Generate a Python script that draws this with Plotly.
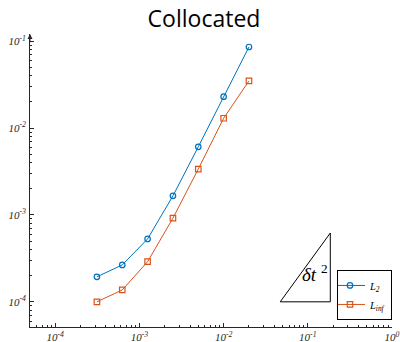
import numpy as np
import plotly.graph_objects as go

# Data
dt = [0.0003125, 0.000625, 0.00125, 0.0025, 0.005, 0.01, 0.02]
err_L2 = [1.94e-4, 2.66e-4, 5.3e-4, 1.66e-3, 6.1e-3, 2.3e-2, 8.6e-2]
err_Linf = [1.0e-4, 1.37e-4, 2.9e-4, 9.2e-4, 3.38e-3, 1.3e-2, 3.5e-2]
tri_x = [0.047, 0.185, 0.185, 0.047]
tri_y = [1.0e-4, 1.0e-4, 6.2e-4, 1.0e-4]
x_decades = [-4, -3, -2, -1, 0]
y_decades = [-4, -3, -2, -1]

BLUE = "#0072BD"
ORANGE = "#D95319"
AX = "#262626"
SERIF = "Liberation Serif"

fig = go.Figure()
fig.add_trace(go.Scatter(
    x=dt, y=err_L2, mode="lines+markers", name="<i>L<sub>2</sub></i>",
    line=dict(color=BLUE, width=1),
    marker=dict(symbol="circle-open", size=5.5, color=BLUE, line=dict(width=1.2)),
))
fig.add_trace(go.Scatter(
    x=dt, y=err_Linf, mode="lines+markers", name="<i>L<sub>inf</sub></i>",
    line=dict(color=ORANGE, width=1),
    marker=dict(symbol="square-open", size=5.5, color=ORANGE, line=dict(width=1.2)),
))
fig.add_trace(go.Scatter(
    x=tri_x, y=tri_y, mode="lines", showlegend=False, hoverinfo="skip",
    line=dict(color="black", width=1),
))

def minor_vals(decs):
    out = []
    for d in range(min(decs) - 1, max(decs) + 1):
        for k in range(2, 10):
            out.append(k * 10.0 ** d)
    return out

fig.update_xaxes(
    type="log", range=[-4.3, 0.0], automargin=False,
    showline=True, linecolor=AX, linewidth=1, mirror=False,
    showgrid=False, zeroline=False,
    ticks="inside", ticklen=4, tickcolor=AX,
    tickvals=[10.0 ** d for d in x_decades],
    ticktext=[f"<i>10<sup>{d}</sup></i>" for d in x_decades],
    tickfont=dict(family=SERIF, size=11, color=AX, style="italic"),
    minor=dict(tickvals=minor_vals(x_decades), ticks="inside", ticklen=2, tickcolor=AX, showgrid=False),
)
fig.update_yaxes(
    type="log", range=[-4.29, -0.916], automargin=False,
    showline=True, linecolor=AX, linewidth=1, mirror=False,
    showgrid=False, zeroline=False,
    ticks="inside", ticklen=4, tickcolor=AX,
    tickvals=[10.0 ** d for d in y_decades],
    ticktext=[f"<i>10<sup>{d}</sup></i>" for d in y_decades],
    tickfont=dict(family=SERIF, size=11, color=AX, style="italic"),
    minor=dict(tickvals=minor_vals(y_decades), ticks="inside", ticklen=2, tickcolor=AX, showgrid=False),
    ticklabelstandoff=1,
)

# arrow at the top of the y axis
fig.add_annotation(xref="paper", yref="paper", x=0, y=1.0, ax=0, ay=10,
                   axref="pixel", ayref="pixel", text="", showarrow=True,
                   arrowhead=2, arrowsize=1, arrowwidth=1, arrowcolor=AX)
# slope label
fig.add_annotation(x=np.log10(0.123), y=np.log10(2.12e-4), xref="x", yref="y",
                   text="<i>δt</i> <sup>2</sup>", showarrow=False,
                   font=dict(family=SERIF, size=19, color="black"))

fig.update_layout(
    width=400, height=342,
    margin=dict(l=30, r=8, t=34, b=15),
    paper_bgcolor="white", plot_bgcolor="white",
    title=dict(text="Collocated", x=0.51, xref="container", xanchor="center",
               y=1 - 19 / 342, yref="container", yanchor="middle",
               font=dict(family="Open Sans", size=23, color="black")),
    legend=dict(x=1.0, y=0.024, xanchor="right", yanchor="bottom",
                bgcolor="white", bordercolor="black", borderwidth=1,
                font=dict(family=SERIF, size=10.5, color="black"),
                tracegroupgap=0, itemwidth=30, entrywidth=20,
                indentation=-8),
    showlegend=True,
)

fig.write_html("out.html", config={"displayModeBar": False},
               post_script="document.body.style.margin='0px';")
